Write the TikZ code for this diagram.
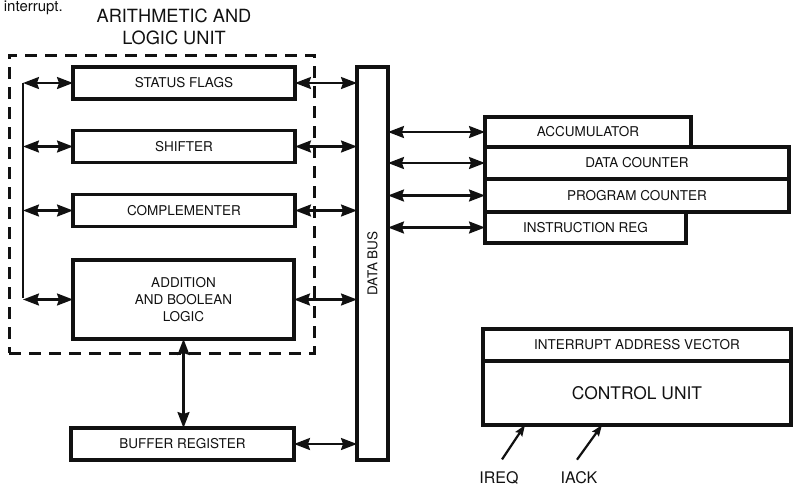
\documentclass[tikz,border=0pt]{standalone}
\usepackage{fontspec}
\setmainfont{TeX Gyre Heros}
\usetikzlibrary{positioning,arrows.meta}
\definecolor{ink}{HTML}{111111}
\tikzset{
  >={Stealth[length=16pt,width=12pt,inset=2pt]},
  reg/.style={draw=ink, line width=3.2pt, inner sep=0pt, outer sep=0pt, text=ink,
              font=\fontsize{13.5}{17}\selectfont, align=center},
  link/.style={<->, line width=2.2pt, draw=ink},
  sig/.style={-{Stealth[length=11pt,width=8pt,inset=1.5pt]}, line width=2.2pt, draw=ink},
  unit/.style={draw=ink, line width=3pt, dash pattern=on 12pt off 8pt, inner sep=0pt, outer sep=0pt},
  big/.style={font=\fontsize{18.2}{22}\selectfont, text=ink, align=center, inner sep=0pt},
}
\begin{document}
\begin{tikzpicture}[x=1pt, y=-1pt]
  \useasboundingbox (0,0) rectangle (793,488);
  \node[font=\fontsize{15}{17}\selectfont, text=ink, anchor=base east, inner sep=0pt] (note) at (63,11) {interrupt.};

  % arithmetic and logic unit
  \node[unit, minimum width=305pt, minimum height=298pt] (alu) at (161.5,204) {};
  \node[big] (alutitle) at (174,27) {ARITHMETIC AND\\LOGIC UNIT};
  \node[reg, minimum width=222pt, minimum height=32pt] (flags) at (184,83) {STATUS FLAGS};
  \node[reg, minimum width=222pt, minimum height=32pt] (shifter) at (184,146.5) {SHIFTER};
  \node[reg, minimum width=222pt, minimum height=32pt] (compl) at (184,210.5) {COMPLEMENTER};
  \node[reg, minimum width=221pt, minimum height=79pt] (adder) at (183.5,299.5) {ADDITION\\AND BOOLEAN\\LOGIC};
  \node[reg, minimum width=223pt, minimum height=32pt] (buffer) at (182.5,444) {BUFFER REGISTER};

  % data bus
  \node[reg, minimum width=31pt, minimum height=393pt] (bus) at (372.5,263.5) {};
  \node[reg, draw=none, rotate=90] (buslabel) at (bus.center) {DATA BUS};

  % registers
  \node[reg, minimum width=206pt, minimum height=30pt] (acc) at (588,132) {ACCUMULATOR};
  \node[reg, minimum width=304pt, minimum height=32pt] (dc) at (637,163) {DATA COUNTER};
  \node[reg, minimum width=304pt, minimum height=33pt] (pc) at (637,195.5) {PROGRAM COUNTER};
  \node[reg, minimum width=201pt, minimum height=31pt] (ir) at (585.5,227.5) {INSTRUCTION REG};

  % control unit
  \node[reg, minimum width=308pt, minimum height=32pt] (ivec) at (637,345) {INTERRUPT ADDRESS VECTOR};
  \node[reg, minimum width=308pt, minimum height=64pt, font=\fontsize{17.4}{20}\selectfont] (ctrl) at (637,393) {CONTROL UNIT};
  \node[big, font=\fontsize{16}{20}\selectfont] (ireq) at (499,478) {IREQ};
  \node[big, font=\fontsize{16}{20}\selectfont] (iack) at (579,478) {IACK};

  % connectors
  \coordinate (spinetop) at (23,83);
  \coordinate (spinebot) at (23,298);
  \draw[line width=2.2pt, draw=ink] (spinetop) -- (spinebot);
  \foreach \n in {flags,shifter,compl,adder} {
    \draw[link] (spinetop |- \n.west) -- (\n.west);
    \draw[link] (\n.east) -- (bus.west |- \n.east);
  }
  \draw[link] (buffer.east) -- (bus.west |- buffer.east);
  \draw[link] (adder.south) -- (adder.south |- buffer.north);
  \foreach \n in {acc,dc,pc,ir} {
    \draw[link] (bus.east |- \n.west) -- (\n.west);
  }
  \draw[sig] ([shift={(3,-12)}]ireq.north) -- ([xshift=-112pt]ctrl.south);
  \draw[sig] ([shift={(-2,-12)}]iack.north) -- ([xshift=-35pt]ctrl.south);
\end{tikzpicture}
\end{document}
